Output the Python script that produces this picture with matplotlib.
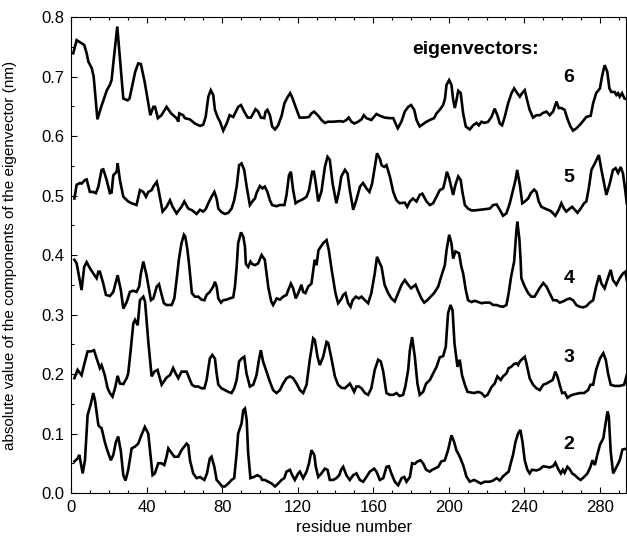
import matplotlib
matplotlib.use('agg')
import matplotlib.pyplot as plt
from matplotlib.ticker import MultipleLocator

# (residue, |component| in nm), one list per eigenvector
eig6 = [(1.2,0.739),(3,0.761),(5.6,0.756),(7,0.753),(8.3,0.739),(9.2,0.725),(11,0.714),(12,0.700),(14,0.628),(16,0.649),(19,0.677),
        (20.6,0.686),(21.5,0.694),(22.4,0.722),(24.5,0.784),(26,0.728),(27.7,0.663),(30,0.660),(31,0.663),(34,0.708),(35.6,0.722),
        (37,0.721),(39,0.691),(42,0.635),(43.6,0.649),(44.5,0.649),(46,0.630),(47.9,0.635),(50.6,0.649),(53,0.638),(55.9,0.630),
        (56.8,0.624),(57.3,0.638),(59.4,0.635),(60.3,0.630),(62.9,0.628),(65.6,0.621),(68.3,0.617),(70,0.619),(71.3,0.632),
        (72.7,0.666),(74,0.677),(75.3,0.669),(76.2,0.644),(77.6,0.632),(78.9,0.624),(80.6,0.609),(82.4,0.621),(84,0.635),
        (85.9,0.632),(86.8,0.638),(88.5,0.649),(90,0.652),(91.7,0.641),(93.5,0.631),(95.2,0.631),(96.5,0.638),(97.7,0.645),
        (99.1,0.641),(100.5,0.631),(102.3,0.630),(103,0.641),(104,0.644),(105.3,0.635),(106.5,0.616),(108,0.611),(109.7,0.618),
        (111.5,0.634),(113,0.655),(114.6,0.665),(116,0.672),(117.1,0.665),(118.9,0.649),(121,0.631),(123.8,0.631),(126,0.632),
        (127.3,0.638),(128.7,0.641),(130.9,0.634),(132.6,0.627),(134.4,0.622),(136,0.624),(138.8,0.624),(142.4,0.625),
        (144.1,0.624),(145.8,0.627),(147,0.631),(148.5,0.624),(150,0.621),(152,0.624),(153.8,0.628),(155,0.635),(156.4,0.630),
        (159,0.627),(161.7,0.637),(163.5,0.634),(166,0.631),(168.8,0.630),(170.6,0.630),(171.4,0.624),(173,0.613),(174.9,0.624),
        (176.7,0.641),(178.5,0.649),(180,0.652),(181.7,0.644),(182.9,0.627),(184.6,0.616),(186.4,0.620),(188.2,0.624),(190,0.627),
        (192.2,0.630),(193.5,0.638),(195.2,0.644),(197,0.652),(198,0.663),(198.8,0.686),(200.2,0.694),(201.4,0.686),(202.3,0.661),
        (203.2,0.647),(204.1,0.661),(205,0.676),(206.3,0.672),(207.6,0.638),(209,0.616),(211.1,0.611),(212.9,0.618),(214.7,0.622),
        (215.9,0.618),(217.3,0.624),(219,0.622),(220.8,0.624),(222.6,0.632),(224.3,0.646),(225.7,0.635),(227,0.621),(228.2,0.618),
        (229.6,0.632),(231.4,0.655),(233.2,0.672),(234.6,0.680),(235.8,0.674),(237.6,0.666),(238.8,0.672),(240.2,0.677),
        (241.4,0.661),(242.8,0.644),(244.6,0.631),(246.4,0.635),(248.2,0.635),(250,0.639),(251.7,0.641),(253.4,0.635),
        (255.2,0.641),(257,0.658),(258.2,0.647),(259.6,0.647),(261.3,0.644),(263,0.627),(264.4,0.616),(265.8,0.609),(267.6,0.613),
        (270,0.621),(272.8,0.632),(275.1,0.634),(276.4,0.655),(278,0.672),(280,0.680),(281.1,0.700),(282.5,0.719),(283.9,0.708),
        (285,0.680),(286,0.674),(287.8,0.674),(288.7,0.669),(289.6,0.672),(290.5,0.666),(291.7,0.672),(293,0.663),(294,0.662)]

eig5 = [(1.8,0.495),(3,0.518),(4.8,0.521),(5.6,0.520),(7.4,0.526),(8.3,0.527),(10,0.506),(11.8,0.506),(13.2,0.504),(14.5,0.515),
        (16.2,0.543),(17.1,0.544),(18.9,0.526),(20.6,0.504),(21.5,0.505),(22.4,0.534),(24.2,0.540),(24.7,0.554),(25.9,0.526),
        (27.7,0.498),(30.3,0.490),(32.1,0.487),(34.7,0.484),(36.5,0.509),(38.3,0.506),(39.7,0.498),(40.9,0.506),(42.7,0.509),
        (43.6,0.515),(45.4,0.523),(46.2,0.512),(48.5,0.473),(50.6,0.481),(52.4,0.492),(53.8,0.481),(55.9,0.470),(58.5,0.481),
        (60,0.490),(62.1,0.478),(64.2,0.475),(66.5,0.469),(68.3,0.476),(70,0.473),(71.3,0.477),(72.7,0.487),(74.4,0.498),
        (75.9,0.506),(77.1,0.495),(78,0.478),(79.7,0.472),(81.5,0.469),(83.3,0.471),(85,0.478),(86.4,0.492),(87.7,0.515),
        (89,0.551),(90.3,0.554),(91.7,0.543),(93,0.515),(94.7,0.484),(96.5,0.492),(97.4,0.495),(98.2,0.504),(100,0.516),
        (101.4,0.512),(102.6,0.515),(104,0.506),(105.3,0.492),(106.5,0.484),(108.8,0.482),(110.6,0.484),(113,0.484),(114.1,0.501),
        (115.4,0.534),(116.4,0.540),(117.6,0.509),(118.9,0.487),(120.3,0.490),(122.9,0.494),(124.7,0.498),(126,0.509),
        (127.7,0.540),(128.6,0.540),(129.6,0.520),(130.9,0.490),(132.6,0.507),(134.4,0.548),(135.8,0.565),(137,0.560),
        (138.5,0.520),(140.5,0.487),(142,0.509),(143.1,0.532),(145,0.543),(146.4,0.537),(147.6,0.509),(149.4,0.476),(151.1,0.493),
        (153,0.515),(154.6,0.521),(156.4,0.512),(158,0.506),(159.4,0.520),(160.8,0.548),(162,0.571),(163.5,0.562),(164.4,0.551),
        (165.8,0.548),(167,0.551),(168.8,0.532),(170.6,0.506),(172.3,0.492),(174,0.487),(176.7,0.488),(178,0.481),(179.4,0.490),
        (181,0.495),(182.9,0.490),(184.6,0.501),(186,0.503),(188.2,0.490),(190,0.484),(191.7,0.487),(193.5,0.498),(195.2,0.509),
        (197,0.512),(197.9,0.523),(199,0.540),(200.2,0.529),(202.3,0.501),(203.5,0.518),(205,0.532),(206.3,0.526),(207.2,0.506),
        (208.5,0.484),(210.2,0.478),(212,0.475),(213.8,0.475),(216.4,0.476),(218.7,0.477),(221.7,0.478),(223.5,0.484),
        (225.3,0.485),(227,0.476),(228.7,0.466),(230.5,0.470),(232.3,0.487),(234,0.509),(235.3,0.526),(236.2,0.543),(237.6,0.518),
        (238.9,0.487),(240.3,0.490),(242,0.495),(243.4,0.504),(245.2,0.510),(246.4,0.506),(247.6,0.490),(249,0.481),(251.7,0.477),
        (254,0.474),(256.4,0.466),(258.2,0.476),(259.6,0.487),(261,0.478),(262.2,0.473),(264,0.478),(265.3,0.481),(266.7,0.476),
        (268.1,0.471),(269.8,0.478),(271.6,0.487),(272.8,0.490),(274.1,0.512),(275.5,0.543),(277.3,0.554),(279.4,0.568),
        (280.8,0.543),(282.2,0.520),(283.4,0.501),(285.2,0.520),(286.9,0.543),(288.3,0.546),(289.6,0.538),(291,0.548),
        (292.2,0.537),(293.5,0.506),(294.2,0.487)]

eig4 = [(1.8,0.392),(3,0.386),(4,0.369),(5.6,0.341),(7,0.380),(8.3,0.388),(10,0.378),(11.8,0.369),(13.6,0.361),(14.5,0.372),
        (15.3,0.372),(17.1,0.352),(18.5,0.333),(20.6,0.331),(22.4,0.338),(24.7,0.366),(26.4,0.341),(27.7,0.310),(29.5,0.321),
        (31.2,0.338),(33,0.340),(34.7,0.338),(36.1,0.347),(37,0.369),(38.3,0.389),(40,0.366),(42.3,0.324),(43.6,0.327),
        (45.4,0.347),(46.6,0.351),(48,0.333),(49.2,0.319),(50.6,0.316),(53.3,0.316),(54.7,0.327),(55.9,0.358),(57.1,0.392),
        (58.5,0.420),(59.8,0.434),(60.5,0.431),(61.6,0.410),(62.5,0.385),(64,0.336),(65.6,0.330),(67.4,0.330),(69.1,0.325),
        (70.6,0.324),(71.8,0.333),(73.5,0.338),(75.3,0.347),(76.2,0.355),(77.1,0.347),(78,0.327),(79.4,0.320),(80.6,0.324),
        (82.4,0.325),(84,0.327),(85.9,0.329),(86.8,0.347),(87.7,0.380),(88.5,0.420),(90,0.438),(91.2,0.431),(92.1,0.414),
        (92.6,0.385),(93.8,0.380),(95,0.389),(95.9,0.385),(97.4,0.383),(99.1,0.386),(100.9,0.400),(102.6,0.392),(103.5,0.370),
        (104.5,0.345),(106,0.322),(107,0.316),(108.9,0.327),(110.6,0.325),(112.3,0.330),(114.1,0.333),(115,0.341),(116.4,0.352),
        (117.6,0.344),(119,0.327),(120.3,0.336),(122,0.350),(122.9,0.338),(124.1,0.336),(125.6,0.347),(127.3,0.352),(129,0.392),
        (130,0.383),(131,0.408),(133.5,0.420),(135.3,0.425),(136.5,0.408),(138,0.375),(140,0.336),(141.4,0.319),(143.1,0.326),
        (144.1,0.333),(145.3,0.336),(146.7,0.319),(148,0.313),(149.1,0.324),(150.8,0.330),(152.4,0.327),(153.8,0.330),
        (155.6,0.324),(157.3,0.319),(159,0.336),(160.8,0.369),(162,0.397),(163.5,0.386),(164.4,0.380),(166,0.350),(167.9,0.336),
        (169.6,0.327),(171.4,0.322),(173.2,0.336),(175,0.350),(176.7,0.358),(178.5,0.350),(180,0.344),(181.2,0.347),(182.4,0.350),
        (183.8,0.339),(185.5,0.327),(187,0.320),(188.6,0.324),(190.4,0.330),(192.2,0.336),(194.4,0.347),(196,0.364),(197.9,0.383),
        (198.8,0.408),(200.2,0.434),(201.4,0.420),(202.3,0.394),(203.5,0.406),(205.4,0.403),(206.6,0.381),(207.6,0.369),
        (209,0.341),(210.2,0.324),(212,0.321),(213.8,0.323),(215.5,0.321),(217.3,0.319),(219,0.320),(221.7,0.320),(223.5,0.316),
        (225.3,0.316),(227,0.314),(228.7,0.313),(230.5,0.316),(231.7,0.336),(233,0.364),(234.6,0.389),(235.8,0.442),(236.3,0.456),
        (237.4,0.425),(238,0.392),(238.4,0.361),(240.2,0.347),(242,0.336),(243.7,0.330),(245.4,0.330),(248,0.344),(250,0.353),
        (251.7,0.347),(253.4,0.336),(255.2,0.324),(257,0.324),(258.7,0.320),(260.5,0.322),(262.2,0.325),(264,0.327),(265.8,0.324),
        (267.5,0.316),(269.3,0.313),(271,0.312),(272.8,0.314),(274.6,0.320),(276.4,0.324),(278,0.347),(279.6,0.366),(280.8,0.352),
        (282.5,0.344),(283.9,0.358),(285.7,0.375),(286.9,0.358),(288.7,0.350),(290.5,0.361),(292.2,0.369),(293.5,0.372),
        (294.2,0.358)]

eig3 = [(1.8,0.193),(3.5,0.207),(5.6,0.198),(7.4,0.221),(8.8,0.238),(10.6,0.238),(12.2,0.240),(13.6,0.226),(15.3,0.210),
        (16.2,0.215),(17.9,0.198),(19.4,0.176),(20.6,0.168),(22,0.162),(23.3,0.176),(24.7,0.197),(25.9,0.184),(27.7,0.183),
        (29.5,0.193),(30.3,0.201),(31.7,0.243),(33,0.285),(33.9,0.291),(35.3,0.282),(36.5,0.324),(38.3,0.330),(39.2,0.322),
        (41,0.252),(42.7,0.196),(44.1,0.204),(45.8,0.207),(48,0.182),(50.6,0.194),(52.4,0.198),(54.1,0.210),(55.4,0.201),
        (56.8,0.193),(58.5,0.204),(61.2,0.204),(62.2,0.196),(64,0.182),(65.6,0.179),(67.4,0.179),(69.1,0.176),(70.6,0.176),
        (71.8,0.190),(73.5,0.226),(74.8,0.232),(76.2,0.226),(77.1,0.201),(78,0.182),(79.7,0.176),(81.5,0.173),(83.3,0.170),
        (85,0.168),(86.4,0.176),(87.7,0.190),(89,0.221),(90.3,0.226),(91.7,0.229),(92.9,0.201),(94.7,0.179),(96.5,0.182),
        (98.2,0.198),(99.5,0.224),(100.5,0.240),(101.7,0.221),(103.5,0.204),(105.3,0.187),(107,0.173),(108.8,0.168),(110.6,0.173),
        (112.3,0.184),(114.1,0.193),(115.9,0.196),(117.6,0.193),(119.4,0.184),(121.2,0.173),(122.9,0.168),(124.7,0.182),
        (126.5,0.226),(128.2,0.260),(129.1,0.257),(130.5,0.229),(131.7,0.215),(133.5,0.229),(135.3,0.254),(136.2,0.252),
        (138,0.224),(139.7,0.196),(141.4,0.182),(143.1,0.177),(144.9,0.176),(146.7,0.181),(147.6,0.184),(148.5,0.179),
        (149.9,0.170),(151.1,0.179),(152.4,0.179),(153.8,0.176),(155.6,0.168),(157.3,0.165),(159,0.176),(160.8,0.207),
        (162.6,0.224),(164,0.221),(165.3,0.204),(167,0.168),(168.8,0.165),(170.6,0.165),(172.3,0.168),(174,0.163),(175.8,0.165),
        (177,0.179),(178.5,0.207),(179.4,0.240),(180.6,0.262),(182,0.229),(183.4,0.184),(184.6,0.165),(186.4,0.170),(188,0.184),
        (190,0.190),(191.7,0.201),(193.5,0.212),(195.2,0.228),(197,0.230),(198.4,0.246),(199.6,0.302),(200.9,0.316),(202,0.307),
        (203,0.252),(204.6,0.212),(205.8,0.224),(207,0.198),(208.5,0.182),(209.9,0.170),(211.6,0.169),(213.4,0.168),(215.5,0.170),
        (217.3,0.168),(219,0.162),(220.5,0.165),(222.6,0.178),(224.3,0.184),(225.7,0.196),(227.5,0.190),(228.7,0.196),
        (230.5,0.201),(231.7,0.210),(233,0.212),(234.6,0.217),(235.8,0.218),(236.7,0.215),(237.6,0.221),(238.5,0.224),
        (240.2,0.229),(241.1,0.218),(242.8,0.193),(244.6,0.182),(246.4,0.176),(248.2,0.173),(250,0.182),(251.7,0.184),
        (253.4,0.187),(255,0.190),(256.4,0.204),(257.5,0.196),(258.7,0.182),(260,0.168),(261.4,0.169),(262.8,0.160),(264.6,0.164),
        (266.6,0.166),(269.3,0.168),(271.6,0.168),(273.7,0.173),(275,0.182),(276.4,0.182),(278,0.207),(280,0.226),(281.8,0.235),
        (283.1,0.224),(284.3,0.201),(285.7,0.182),(287.8,0.180),(290.5,0.180),(292.8,0.182),(294.2,0.198)]

eig2 = [(1.8,0.053),(3.5,0.058),(4.4,0.064),(6.2,0.033),(7.4,0.055),(8.8,0.131),(10.6,0.151),(11.8,0.168),(12.7,0.156),
        (14.5,0.114),(15.3,0.111),(16.2,0.109),(17.9,0.086),(18.9,0.075),(21.1,0.055),(22.4,0.064),(23.8,0.086),(25,0.095),
        (26.4,0.070),(27.7,0.030),(28.9,0.021),(30.3,0.039),(32.1,0.075),(33.9,0.078),(35.6,0.083),(37,0.095),(39.1,0.111),
        (40.9,0.100),(43.2,0.030),(44.4,0.033),(46.2,0.050),(47.9,0.050),(49.4,0.047),(50.6,0.061),(51.5,0.075),(53.3,0.067),
        (54.7,0.061),(56.8,0.061),(58.5,0.072),(61.2,0.083),(62.1,0.080),(63,0.055),(64.7,0.033),(66.5,0.025),(68.3,0.027),
        (69.1,0.025),(70.6,0.022),(72,0.033),(73.5,0.058),(74.4,0.061),(75.9,0.044),(77.1,0.022),(78.8,0.016),(80,0.011),
        (81.5,0.011),(83.3,0.016),(85,0.022),(86.4,0.025),(87.7,0.067),(88.5,0.100),(90.3,0.117),(91.2,0.139),(92.1,0.142),
        (93,0.123),(93.8,0.067),(95,0.025),(96.8,0.027),(98.6,0.030),(100.4,0.027),(101.2,0.022),(102.6,0.022),(104.4,0.019),
        (106.2,0.016),(108,0.011),(109.7,0.016),(111.5,0.022),(112.9,0.025),(114.1,0.036),(115.9,0.039),(117.1,0.030),
        (118.5,0.022),(120.3,0.033),(121.2,0.036),(122.9,0.025),(124.7,0.036),(126,0.050),(127.3,0.072),(128.8,0.064),
        (129.6,0.044),(130.9,0.027),(132.6,0.033),(134.4,0.041),(135.8,0.039),(137,0.022),(138.8,0.022),(140.5,0.025),
        (142,0.030),(143,0.039),(144.1,0.044),(145.8,0.030),(147.6,0.022),(149.4,0.030),(151.1,0.033),(152.9,0.022),
        (154.7,0.019),(156.4,0.027),(158.2,0.036),(160.5,0.041),(161.7,0.036),(163.5,0.022),(165.3,0.025),(167,0.044),
        (168.3,0.045),(169.6,0.033),(171.4,0.019),(173.2,0.013),(175,0.025),(176.4,0.027),(177.6,0.019),(179.4,0.027),
        (180.6,0.050),(182,0.049),(183.4,0.053),(185,0.055),(186.4,0.050),(188,0.039),(189.9,0.036),(191.2,0.039),(194.4,0.044),
        (196,0.053),(197.9,0.055),(199.6,0.072),(201.4,0.097),(202.8,0.086),(204,0.072),(205.8,0.061),(207.6,0.047),(209.3,0.028),
        (211.1,0.019),(213.4,0.022),(215.2,0.019),(217,0.016),(219,0.019),(221.7,0.019),(223.5,0.021),(225.3,0.025),(227,0.021),
        (228.7,0.028),(230.5,0.033),(231.7,0.036),(232.8,0.050),(234,0.064),(235.3,0.086),(236.7,0.100),(237.9,0.106),(239,0.086),
        (240.2,0.055),(241.6,0.039),(242.8,0.033),(244,0.039),(246.4,0.038),(248.2,0.040),(250,0.045),(251.7,0.044),(253.4,0.043),
        (255.2,0.045),(256.4,0.051),(257.8,0.041),(259.3,0.033),(260.4,0.039),(261.3,0.034),(262.8,0.044),(264,0.040),
        (265.3,0.033),(266.7,0.030),(268.4,0.025),(269.8,0.022),(271.6,0.027),(273.4,0.033),(275,0.044),(276,0.055),(277.3,0.047),
        (278.6,0.064),(280,0.081),(281.8,0.092),(282.7,0.111),(284,0.137),(284.7,0.129),(285.7,0.070),(287,0.033),(288.8,0.044),
        (290.5,0.055),(291.9,0.073),(293,0.074),(294.2,0.074)]

series = [eig6, eig5, eig4, eig3, eig2]
labels = ['6', '5', '4', '3', '2']
label_y = [0.699, 0.531, 0.361, 0.227, 0.081]

plt.rcParams['font.family'] = ['Liberation Sans', 'DejaVu Sans']

fig = plt.figure(figsize=(6.27, 5.4), dpi=100)
ax = fig.add_axes([0.1132, 0.087, 0.8858, 0.8815])

for s in series:
    x, y = zip(*s)
    ax.plot(x, y, color='black', lw=1.9, solid_joinstyle='miter')

for lab, ly in zip(labels, label_y):
    ax.text(263.5, ly, lab, ha='center', va='center', fontsize=14, fontweight='bold')
ax.text(180.4, 0.745, 'eigenvectors:', ha='left', va='center', fontsize=14, fontweight='bold')

ax.set_xlim(0, 294)
ax.set_ylim(0, 0.8)
ax.xaxis.set_major_locator(MultipleLocator(40))
ax.xaxis.set_minor_locator(MultipleLocator(10))
ax.yaxis.set_major_locator(MultipleLocator(0.1))
ax.yaxis.set_minor_locator(MultipleLocator(0.05))
ax.yaxis.set_major_formatter(matplotlib.ticker.FormatStrFormatter('%.1f'))
ax.tick_params(which='both', direction='in', top=True, right=False, labelsize=12)
ax.tick_params(which='major', length=4, width=0.8, pad=5)
ax.tick_params(which='minor', length=2.5, width=0.8)
for sp in ax.spines.values():
    sp.set_linewidth(0.8)

ax.set_xlabel('residue number', fontsize=12)
ax.set_ylabel('absolute value of the components of the eigenvector (nm)', fontsize=11)
ax.xaxis.set_label_coords(0.51, -0.057)
ax.yaxis.set_label_coords(-0.098, 0.5)

plt.savefig('out.png', dpi=100)
plt.close()
